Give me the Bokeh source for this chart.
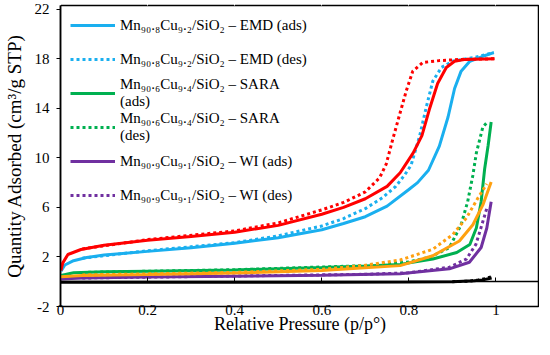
from bokeh.plotting import figure
from bokeh.models import Legend, LegendItem, LinearAxis, FixedTicker, Range1d
from bokeh.embed import file_html
from bokeh.resources import INLINE

# ---------------- data ----------------
x_ticks = [0, 0.2, 0.4, 0.6, 0.8, 1.0]
x_tick_labels = ["0", "0.2", "0.4", "0.6", "0.8", "1"]
y_ticks = [-2, 2, 6, 10, 14, 18, 22]
y_tick_labels = ["-2", "2", "6", "10", "14", "18", "22"]

# Mn90.8Cu9.2/SiO2 - EMD (blue)
emd_ads_x = [0.001, 0.01, 0.03, 0.06, 0.1, 0.2, 0.3, 0.4, 0.5, 0.6, 0.65, 0.7, 0.75, 0.8, 0.82, 0.845, 0.87, 0.89, 0.905, 0.92, 0.94, 0.97, 0.995]
emd_ads_y = [0.85, 1.35, 1.7, 1.95, 2.15, 2.45, 2.75, 3.1, 3.55, 4.2, 4.7, 5.25, 6.1, 7.45, 8.0, 9.0, 10.95, 13.3, 15.6, 17.0, 17.8, 18.2, 18.5]
emd_des_x = [0.05, 0.2, 0.4, 0.5, 0.6, 0.65, 0.7, 0.74, 0.77, 0.79, 0.805, 0.825, 0.84, 0.855, 0.875, 0.9, 0.95, 0.995]
emd_des_y = [1.9, 2.5, 3.15, 3.7, 4.5, 5.1, 5.9, 6.8, 7.7, 8.6, 9.4, 11.8, 14.1, 16.2, 17.3, 17.8, 18.1, 18.5]

# Mn90.6Cu9.4/SiO2 - SARA (green)
sara_ads_x = [0.001, 0.03, 0.1, 0.2, 0.4, 0.6, 0.7, 0.78, 0.855, 0.91, 0.94, 0.955, 0.966, 0.974, 0.982, 0.989]
sara_ads_y = [0.5, 0.72, 0.8, 0.85, 0.95, 1.15, 1.27, 1.4, 1.83, 2.36, 3.0, 4.34, 6.46, 9.1, 11.0, 12.9]
sara_des_x = [0.05, 0.4, 0.7, 0.8, 0.85, 0.893, 0.92, 0.935, 0.947, 0.955, 0.97, 0.981]
sara_des_y = [0.75, 0.97, 1.3, 1.6, 2.0, 2.76, 4.6, 6.46, 8.6, 10.4, 12.5, 12.9]

# Mn90.9Cu9.1/SiO2 - WI (purple)
wi_ads_x = [0.001, 0.05, 0.2, 0.4, 0.6, 0.78, 0.893, 0.939, 0.966, 0.979, 0.989]
wi_ads_y = [0.22, 0.3, 0.38, 0.45, 0.52, 0.64, 1.04, 1.57, 2.76, 4.34, 6.46]
wi_des_x = [0.05, 0.4, 0.7, 0.8, 0.893, 0.932, 0.954, 0.97, 0.979]
wi_des_y = [0.3, 0.46, 0.6, 0.72, 1.17, 1.83, 3.02, 4.87, 5.93]

# further samples not named in the (cut) legend
red_ads_x = [0.001, 0.005, 0.017, 0.047, 0.1, 0.2, 0.3, 0.4, 0.5, 0.6, 0.65, 0.7, 0.75, 0.78, 0.81, 0.83, 0.847, 0.866, 0.886, 0.905, 0.93, 0.997]
red_ads_y = [0.9, 1.5, 2.2, 2.6, 2.95, 3.35, 3.65, 4.0, 4.55, 5.45, 6.0, 6.7, 7.7, 8.8, 10.4, 11.8, 13.9, 16.0, 17.3, 17.8, 17.95, 18.0]
red_des_x = [0.05, 0.2, 0.4, 0.5, 0.6, 0.65, 0.7, 0.733, 0.748, 0.763, 0.782, 0.794, 0.809, 0.832, 0.87, 0.92, 0.997]
red_des_y = [2.65, 3.4, 4.1, 4.75, 5.8, 6.4, 7.25, 8.4, 9.5, 11.5, 13.9, 15.4, 17.0, 17.7, 17.85, 17.95, 18.0]

orange_ads_x = [0.001, 0.05, 0.2, 0.4, 0.6, 0.78, 0.855, 0.916, 0.947, 0.97, 0.989]
orange_ads_y = [0.4, 0.5, 0.58, 0.7, 0.9, 1.3, 2.1, 3.29, 4.6, 6.2, 8.05]
orange_des_x = [0.05, 0.4, 0.6, 0.694, 0.78, 0.855, 0.901, 0.932, 0.958, 0.979]
orange_des_y = [0.55, 0.75, 1.0, 1.3, 1.75, 2.62, 3.81, 5.14, 6.72, 7.9]

black_ads_x = [0.001, 0.2, 0.4, 0.6, 0.8, 0.9, 0.95, 0.97, 0.99]
black_ads_y = [-0.05, -0.05, -0.05, -0.04, -0.02, 0.0, 0.08, 0.15, 0.3]
black_des_x = [0.9, 0.94, 0.96, 0.975, 0.99]
black_des_y = [0.0, 0.05, 0.15, 0.25, 0.4]

labels = [
    "Mn₉₀.₈Cu₉.₂/SiO₂ – EMD (ads)",
    "Mn₉₀.₈Cu₉.₂/SiO₂ – EMD (des)",
    "Mn₉₀.₆Cu₉.₄/SiO₂ – SARA\n(ads)",
    "Mn₉₀.₆Cu₉.₄/SiO₂ – SARA\n(des)",
    "Mn₉₀.₉Cu₉.₁/SiO₂ – WI (ads)",
    "Mn₉₀.₉Cu₉.₁/SiO₂ – WI (des)",
]

# ---------------- figure ----------------
FONT = "Liberation Serif"
BLUE, GREEN, PURPLE, RED, ORANGE = "#1AAFEF", "#00B050", "#7030A0", "#FF0000", "#FFA010"

p = figure(frame_width=479, frame_height=301, x_range=Range1d(0, 1.1), y_range=Range1d(-2, 22.3),
           output_backend="svg", toolbar_location=None,
           x_axis_location=None, y_axis_location="left", min_border=0)
p.grid.visible = False
p.outline_line_color = "black"
p.outline_line_width = 1.5
p.background_fill_color = "white"
p.border_fill_color = "white"

# y axis
ya = p.yaxis[0]
ya.ticker = FixedTicker(ticks=y_ticks)
ya.major_label_overrides = dict(zip(y_ticks, y_tick_labels))
ya.axis_line_color = "black"
ya.axis_line_width = 1.5
ya.major_tick_out = 4
ya.major_tick_in = 0
ya.minor_tick_line_color = None
ya.major_label_standoff = 7
ya.major_label_text_font = FONT
ya.major_label_text_font_size = "15px"
ya.major_label_text_color = "black"
ya.axis_label = "Quantity Adsorbed (cm³/g STP)"
ya.axis_label_text_font = FONT
ya.axis_label_text_font_size = "19px"
ya.axis_label_text_font_style = "normal"
ya.axis_label_text_color = "black"
ya.axis_label_standoff = 7

# blank strip above the frame (keeps a small top margin)
top_pad = LinearAxis(ticker=FixedTicker(ticks=x_ticks), axis_line_color=None,
                     major_tick_line_color="white", minor_tick_line_color=None,
                     major_tick_out=5, major_tick_in=0,
                     major_label_text_font_size="1px", major_label_text_color=None,
                     major_label_standoff=0)
p.add_layout(top_pad, "above")

# x labels along the bottom
xl = LinearAxis(ticker=FixedTicker(ticks=x_ticks),
                major_label_overrides=dict(zip(x_ticks, x_tick_labels)),
                axis_line_color=None, major_tick_line_color=None, minor_tick_line_color=None,
                major_tick_out=0, major_tick_in=0,
                major_label_standoff=-2, major_label_text_font=FONT,
                major_label_text_font_size="15px", major_label_text_color="black",
                axis_label="Relative Pressure (p/p°)", axis_label_text_font=FONT,
                axis_label_text_font_size="18px", axis_label_text_font_style="normal",
                axis_label_text_color="black", axis_label_standoff=-4)
p.add_layout(xl, "below")

# x axis line and ticks at y = 0
x0 = LinearAxis(fixed_location=0, ticker=FixedTicker(ticks=x_ticks),
                major_tick_out=0, major_tick_in=4, minor_tick_line_color=None,
                axis_line_color="black", axis_line_width=1.5,
                major_label_text_font_size="1px", major_label_text_color=None,
                major_label_standoff=0)
p.add_layout(x0, "below")

W = 3
DOT = "3 3"
series = [
    (emd_ads_x, emd_ads_y, BLUE, "solid"),
    (emd_des_x, emd_des_y, BLUE, DOT),
    (sara_ads_x, sara_ads_y, GREEN, "solid"),
    (sara_des_x, sara_des_y, GREEN, DOT),
    (wi_ads_x, wi_ads_y, PURPLE, "solid"),
    (wi_des_x, wi_des_y, PURPLE, DOT),
    (red_ads_x, red_ads_y, RED, "solid"),
    (red_des_x, red_des_y, RED, DOT),
    (orange_ads_x, orange_ads_y, ORANGE, "solid"),
    (orange_des_x, orange_des_y, ORANGE, DOT),
    (black_ads_x, black_ads_y, "black", "solid"),
    (black_des_x, black_des_y, "black", DOT),
]
renderers = []
for xs, ys, c, d in series:
    r = p.line(xs, ys, line_color=c, line_width=W, line_dash=d)
    renderers.append(r)

items = [LegendItem(label=labels[i], renderers=[renderers[i]]) for i in range(6)]
legend = Legend(items=items, location=(10, 94),
                label_text_font=FONT, label_text_font_size="15px", label_text_color="black",
                glyph_width=45, glyph_height=34, label_height=34, spacing=0,
                padding=0, margin=0, label_standoff=5,
                background_fill_alpha=0, border_line_alpha=0)
p.add_layout(legend)

open("out.html", "w").write(file_html(p, INLINE))
